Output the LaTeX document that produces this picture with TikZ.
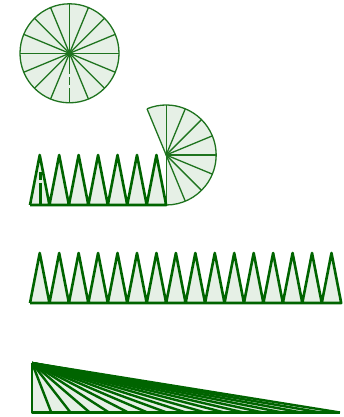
\documentclass[tikz,border=0pt]{standalone}
\usetikzlibrary{calc}
\definecolor{dg}{RGB}{0,100,0}
\definecolor{tg}{RGB}{30,115,30}
\definecolor{lg}{RGB}{230,240,230}
\tikzset{
  thinline/.style={draw=tg, line width=1.3pt},
  thickline/.style={draw=dg, line width=2.6pt, line join=round},
  cutline/.style={draw=tg, line width=1.3pt, dash pattern=on 21pt off 3pt on 8pt off 3pt on 20pt},
  cutthick/.style={draw=dg, line width=2.2pt, dash pattern=on 0pt off 17pt on 8pt off 3pt on 22pt}
}
\begin{document}
\begin{tikzpicture}[x=1pt,y=1pt]
\useasboundingbox (0,0) rectangle (343,417);
\pgfmathsetmacro{\w}{19.45}
\pgfmathsetmacro{\r}{50}
% ---------- Figure 1: full circle ----------
\coordinate (C1) at (69.5,363.7);
\fill[lg] (C1) circle (49.5);
\foreach \a in {0,22.5,...,250}{
  \draw[thinline] (C1) -- ++(\a:49.5);
}
\foreach \a in {292.5,315,337.5}{
  \draw[thinline] (C1) -- ++(\a:49.5);
}
\draw[cutline] (C1) -- ++(270:49.5);
\draw[thinline] (C1) circle (49.5);
\fill[tg] (C1) circle (2.3);
% ---------- Figure 2: partly unrolled ----------
\coordinate (C2) at ({30+7*\w},262);
\fill[lg] (C2) -- ++(112.5:\r) arc[start angle=112.5, end angle=-90, radius=\r] -- cycle;
\foreach \a in {112.5,90,...,-90}{
  \draw[thinline] (C2) -- ++(\a:\r);
}
\draw[thinline] (C2) ++(112.5:\r) arc[start angle=112.5, end angle=-90, radius=\r];
\fill[lg] (30,212) \foreach \k in {0,...,6}{ -- ({30+(\k+0.5)*\w},262) -- ({30+(\k+1)*\w},212) } -- cycle;
\draw[thickline] (30,212) \foreach \k in {0,...,6}{ -- ({30+(\k+0.5)*\w},262) -- ({30+(\k+1)*\w},212) } -- (30,212);
\coordinate (A1) at ({30+0.5*\w+0.8},262);
\coordinate (B1) at ({30+0.5*\w+0.8},212);
\draw[cutthick] (A1) -- (B1);
% ---------- Figure 3: fully unrolled ----------
\fill[lg] (30,114) \foreach \k in {0,...,15}{ -- ({30+(\k+0.5)*\w},164) -- ({30+(\k+1)*\w},114) } -- cycle;
\draw[thickline] (30,114) \foreach \k in {0,...,15}{ -- ({30+(\k+0.5)*\w},164) -- ({30+(\k+1)*\w},114) } -- (30,114);
% ---------- Figure 4: sheared triangle ----------
\coordinate (T) at (32,54);
\coordinate (L) at (32,4.5);
\coordinate (R) at (340,4.5);
\fill[lg] (T) -- (L) -- (R) -- cycle;
\foreach \k in {1,...,16}{
  \draw[draw=dg, line width=2.4pt] (T) -- ({32+\k*(340-32)/16},4.5);
}
\draw[thickline] (T) -- (L) -- (R);
\end{tikzpicture}
\end{document}
